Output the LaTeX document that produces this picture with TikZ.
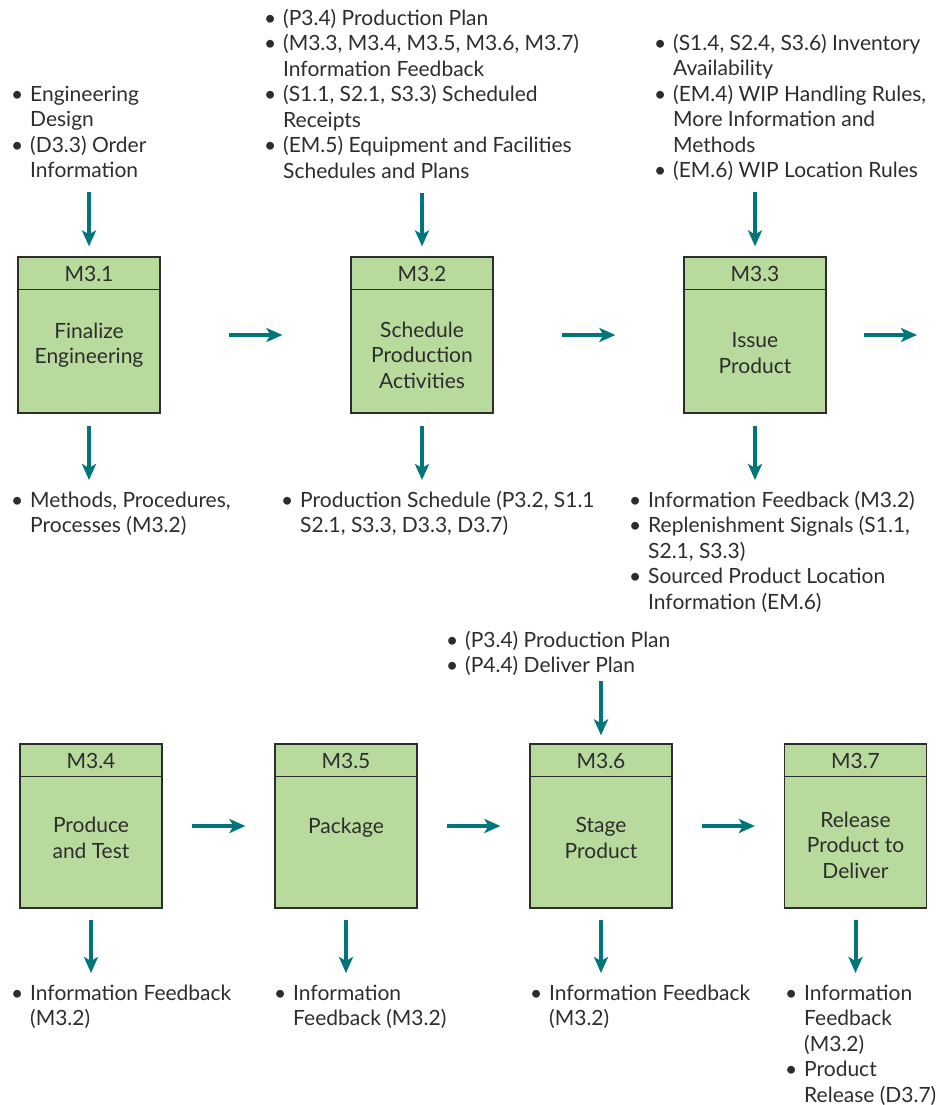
\documentclass[tikz,border=0pt]{standalone}
\usepackage{fontspec}
\setmainfont{Lato}
\usepackage{xcolor}
\usetikzlibrary{arrows.meta}

\definecolor{procgreen}{RGB}{184,218,156}
\definecolor{flowteal}{RGB}{0,118,122}
\definecolor{inkgray}{RGB}{45,45,45}

% bullet lists: one row per printed line
\newcommand{\bu}{\makebox[19pt][l]{\textbullet}}
\newcommand{\blist}[1]{\begin{tabular}{@{}l@{}l@{}}#1\end{tabular}}

\begin{document}
\begin{tikzpicture}[x=1pt, y=-1pt,
		txt/.style={font=\fontsize{21}{25.5}\selectfont, text=inkgray, inner sep=0pt},
		proc/.style={draw=inkgray, line width=1.2pt, fill=procgreen, minimum width=142pt, inner sep=0pt},
		list/.style={txt, anchor=north west},
		flow/.style={draw=flowteal, line width=4pt, -{Stealth[length=16pt, width=14pt, inset=4pt]}}]
	\useasboundingbox (0,0) rectangle (950,1105);

	% process boxes with their step number on top
	\foreach \id/\x/\y/\h/\num/\dy/\body in {
			m31/89/335/156/M3.1/-10/{Finalize\\Engineering},
			m32/422/335/156/M3.2/-20/{Schedule\\Production\\Activities},
			m33/755/335/156/M3.3/-18/{Issue\\Product},
			m34/91/826/164/M3.4/-12/{Produce\\and Test},
			m35/346/826/164/M3.5/-2/{Package},
			m36/601/826/164/M3.6/-12/{Stage\\Product},
			m37/855.5/826/164/M3.7/-19/{Release\\Product to\\Deliver}} {
		\node[proc, minimum height=\h pt] (\id) at (\x,\y) {};
		\draw[draw=inkgray, line width=1.2pt] ([yshift=-33pt]\id.north west) -- ([yshift=-33pt]\id.north east);
		\node[txt] at ([yshift=-18pt]\id.north) {\num};
		\node[txt, align=center] at ([yshift=\dy pt]\id.center) {\body};
	}

	% inputs
	\node[list] (inA) at (11,83) {\blist{\bu & Engineering\\ & Design\\ \bu & (D3.3) Order\\ & Information}};
	\node[list] (inB) at (264,7) {\blist{\bu & (P3.4) Production Plan\\
				\bu & (M3.3, M3.4, M3.5, M3.6, M3.7)\\ & Information Feedback\\
				\bu & (S1.1, S2.1, S3.3) Scheduled\\ & Receipts\\
				\bu & (EM.5) Equipment and Facilities\\ & Schedules and Plans}};
	\node[list] (inC) at (654,32) {\blist{\bu & (S1.4, S2.4, S3.6) Inventory\\ & Availability\\
				\bu & (EM.4) WIP Handling Rules,\\ & More Information and\\ & Methods\\
				\bu & (EM.6) WIP Location Rules}};
	\node[list] (inF) at (446,629) {\blist{\bu & (P3.4) Production Plan\\ \bu & (P4.4) Deliver Plan}};

	% outputs
	\node[list] (outA) at (11,489) {\blist{\bu & Methods, Procedures,\\ & Processes (M3.2)}};
	\node[list] (outB) at (281,489) {\blist{\bu & Production Schedule (P3.2, S1.1\\ & S2.1, S3.3, D3.3, D3.7)}};
	\node[list] (outC) at (629,489) {\blist{\bu & Information Feedback (M3.2)\\
				\bu & Replenishment Signals (S1.1,\\ & S2.1, S3.3)\\
				\bu & Sourced Product Location\\ & Information (EM.6)}};
	\node[list] (outD) at (11,982) {\blist{\bu & Information Feedback\\ & (M3.2)}};
	\node[list] (outE) at (274,982) {\blist{\bu & Information\\ & Feedback (M3.2)}};
	\node[list] (outF) at (530,982) {\blist{\bu & Information Feedback\\ & (M3.2)}};
	\node[list] (outG) at (785,982) {\blist{\bu & Information\\ & Feedback\\ & (M3.2)\\
				\bu & Product\\ & Release (D3.7)}};

	% arrows
	\foreach \l/\b in {inA/m31, inB/m32, inC/m33}
		\draw[flow, shorten <=7pt, shorten >=10pt] (\b.north |- \l.south) -- (\b.north);
	\draw[flow, shorten <=1pt, shorten >=8pt] (m36.north |- inF.south) -- (m36.north);
	\foreach \b/\l in {m31/outA, m32/outB, m33/outC}
		\draw[flow, shorten <=12pt, shorten >=9pt] (\b.south) -- (\b.south |- \l.north);
	\foreach \b/\l in {m34/outD, m35/outE, m36/outF, m37/outG}
		\draw[flow, shorten <=11pt, shorten >=9pt] (\b.south) -- (\b.south |- \l.north);
	\foreach \s/\t/\g in {m31/m32/68, m32/m33/68, m34/m35/29, m35/m36/29, m36/m37/29}
		\draw[flow, shorten <=\g pt, shorten >=\g pt] (\s) -- (\t);
	\coordinate (m33next) at (917,335);
	\draw[flow, shorten <=37pt] (m33) -- (m33next);
\end{tikzpicture}
\end{document}
